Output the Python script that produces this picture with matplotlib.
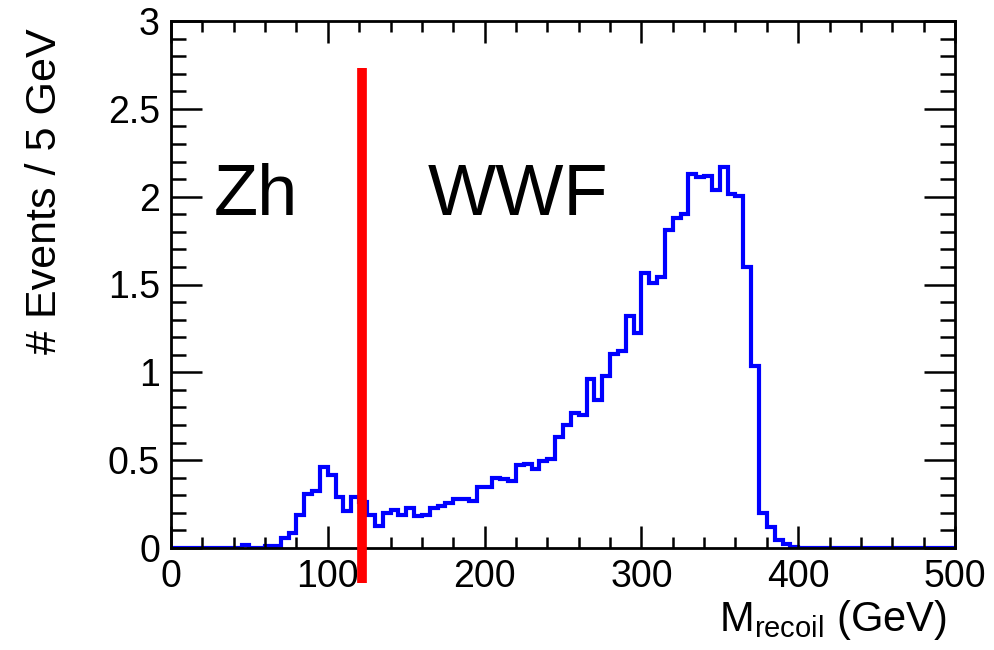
import numpy as np
import matplotlib
matplotlib.use("Agg")
import matplotlib.pyplot as plt
from matplotlib.ticker import MultipleLocator

plt.rcParams['font.family'] = ['Liberation Sans', 'DejaVu Sans']

# histogram: 100 bins of 5 GeV from 0 to 500
bin_edges = np.arange(0, 505, 5)
counts = [
    0, 0, 0, 0, 0, 0, 0, 0, 0, 0.015,
    0, 0, 0.012, 0.012, 0.055, 0.087, 0.19, 0.31, 0.325, 0.46,
    0.415, 0.29, 0.21, 0.29, 0.26, 0.19, 0.125, 0.20, 0.215, 0.19,
    0.23, 0.18, 0.19, 0.23, 0.24, 0.255, 0.28, 0.28, 0.27, 0.35,
    0.35, 0.40, 0.39, 0.38, 0.475, 0.48, 0.45, 0.495, 0.505, 0.63,
    0.70, 0.77, 0.755, 0.96, 0.84, 0.98, 1.105, 1.12, 1.32, 1.225,
    1.565, 1.51, 1.54, 1.81, 1.88, 1.90, 2.13, 2.11, 2.12, 2.04,
    2.17, 2.015, 2.005, 1.60, 1.035, 0.20, 0.12, 0.045, 0.025, 0.005,
    0, 0, 0, 0, 0, 0, 0, 0, 0, 0,
    0, 0, 0, 0, 0, 0, 0, 0, 0, 0,
]
cut_x = 122
cut_top = 2.73
cut_bottom = -0.2
region_labels = ["Zh", "WWF"]
region_pos = [(27, 2.0), (164, 2.0)]

fig = plt.figure(figsize=(9.95, 6.5), dpi=100)
ax = fig.add_axes([171/995, 1-548/650, (955-171)/995, (548-21)/650])

ax.stairs(counts, bin_edges, color='#0000ff', linewidth=3.0, baseline=0)
ax.plot([cut_x, cut_x], [cut_bottom, cut_top], color='#ff0000', linewidth=7,
        clip_on=False, solid_capstyle='butt', zorder=5)

for lab, (x, y) in zip(region_labels, region_pos):
    ax.text(x, y, lab, fontsize=52, ha='left', va='center', color='black')

ax.set_xlim(0, 500)
ax.set_ylim(0, 3)
ax.xaxis.set_major_locator(MultipleLocator(100))
ax.xaxis.set_minor_locator(MultipleLocator(20))
ax.yaxis.set_major_locator(MultipleLocator(0.5))
ax.yaxis.set_minor_locator(MultipleLocator(0.1))
ax.set_yticks([0, 0.5, 1, 1.5, 2, 2.5, 3])
ax.set_yticklabels(["0", "0.5", "1", "1.5", "2", "2.5", "3"])
ax.tick_params(which='both', direction='in', top=True, right=True, width=1.8,
               labelsize=27, pad=8)
ax.tick_params(which='major', length=22)
ax.tick_params(which='minor', length=11)
ax.tick_params(axis='x', which='major', length=16)
ax.tick_params(axis='x', which='minor', length=8)
for s in ax.spines.values():
    s.set_linewidth(2)

fig.text(45/995, 1-28/650, "# Events / 5 GeV", fontsize=31, rotation=90,
         ha='center', va='top')
ax.set_xlabel(r"M$_{\mathregular{recoil}}$ (GeV)", fontsize=30)
ax.xaxis.set_label_coords(0.99, -0.095)
ax.xaxis.label.set_ha('right')
ax.xaxis.label.set_va('top')

fig.savefig("out.png", dpi=100)
